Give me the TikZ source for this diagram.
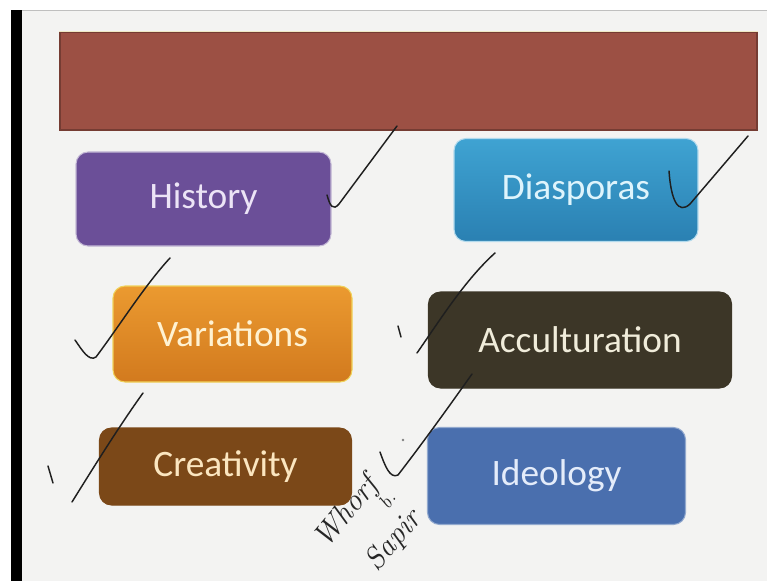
\documentclass[tikz,border=0pt]{standalone}
\usepackage{fontspec}
\setmainfont{Carlito}
\newfontfamily\handfont{Latin Modern Roman}
\begin{document}
% one unit = one pixel of a 767 x 581 slide, y grows downwards
\begin{tikzpicture}[x=0.75pt,y=-0.75pt,
  card/.style={rounded corners=9pt, inner sep=0pt, line width=0.8pt,
    font=\fontsize{28}{32}\selectfont},
  pen/.style={draw=black!88, line width=1.1pt, line cap=round, line join=round},
  hand/.style={font=\handfont\itshape\fontsize{23}{24}\selectfont, text=black!85, inner sep=0pt}]
\definecolor{slidebg}{HTML}{F3F3F2}
\definecolor{bannerred}{HTML}{9C5044}
\definecolor{histpurple}{HTML}{6B4F98}
\definecolor{diastop}{HTML}{3FA3D2}
\definecolor{diasbot}{HTML}{2A80B2}
\definecolor{varitop}{HTML}{EB9A30}
\definecolor{varibot}{HTML}{D27A1E}
\definecolor{accudark}{HTML}{3C3627}
\definecolor{creabrown}{HTML}{7B4818}
\definecolor{ideoblue}{HTML}{4A6FAE}
\useasboundingbox (0,0) rectangle (767,581);
% screen and slide
\fill[white] (0,0) rectangle (767,581);
\fill[slidebg] (22,10) rectangle (767,581);
\draw[black!25, line width=0.6pt] (22,10) -- (767,10);
\fill[black] (11,10) rectangle (22,581);
% title banner (sizes in pt: pixels times 0.75)
\node[draw=bannerred!75!black, fill=bannerred, minimum width=522.75pt, minimum height=73.5pt,
      inner sep=0pt, line width=0.8pt] (banner) at (408.5,81) {};
\draw[color={rgb,255:red,240;green,232;blue,196}, line width=1.4pt]
  (banner.north west) -- (banner.north east);
% topic cards
\node[card, draw=histpurple!40!white, fill=histpurple, text={rgb,255:red,236;green,228;blue,246},
      minimum width=191.25pt, minimum height=70.5pt] (hist) at (203.5,199) {History};
\node[card, draw=diastop!40!white, top color=diastop, bottom color=diasbot,
      text={rgb,255:red,222;green,244;blue,252},
      minimum width=183pt, minimum height=77.25pt] (dias) at (576,190) {Diasporas};
\node[card, draw={rgb,255:red,240;green,210;blue,90}, top color=varitop, bottom color=varibot,
      text={rgb,255:red,255;green,242;blue,210},
      minimum width=179.25pt, minimum height=72pt] (vari) at (232.5,334) {Variations};
\node[card, draw=accudark, fill=accudark, text={rgb,255:red,240;green,236;blue,218},
      minimum width=227.25pt, minimum height=72pt] (accu) at (580,340) {Acculturation};
\node[card, draw=creabrown, fill=creabrown, text={rgb,255:red,251;green,230;blue,192},
      minimum width=189pt, minimum height=57.75pt] (crea) at (225.5,466.5) {Creativity};
\node[card, draw=ideoblue!60!white, fill=ideoblue, text={rgb,255:red,228;green,236;blue,250},
      minimum width=193.5pt, minimum height=72.75pt] (ideo) at (556.5,476) {Ideology};
% ticks written over the slide
\draw[pen] (327,195) .. controls (330,206) and (333,211) .. (339,204) -- (397,126);
\draw[pen] (669,171) .. controls (671,200) and (678,215) .. (690,204) -- (748,136);
\draw[pen] (75,340) .. controls (82,350) and (89,362) .. (96,357) .. controls (120,325) and (145,285) .. (170,258);
\draw[pen] (398,326) -- (401,337);
\draw[pen] (417,353) .. controls (440,320) and (465,280) .. (495,253);
\draw[pen] (48,466) -- (53,483);
\draw[pen] (72,502) .. controls (95,465) and (120,425) .. (143,393);
\draw[pen] (380,452) .. controls (385,466) and (390,479) .. (398,475) .. controls (425,440) and (450,405) .. (472,374);
\fill[black!50] (403,440) circle (1.3);
% handwritten note
\node[hand, rotate=50] (whorf) at (347,513) {Whorf};
\node[hand, rotate=55] (amp) at (387,500) {\fontsize{15}{15}\selectfont b.};
\node[hand, rotate=50] (sapir) at (394,541) {Sapir};
\end{tikzpicture}
\end{document}
